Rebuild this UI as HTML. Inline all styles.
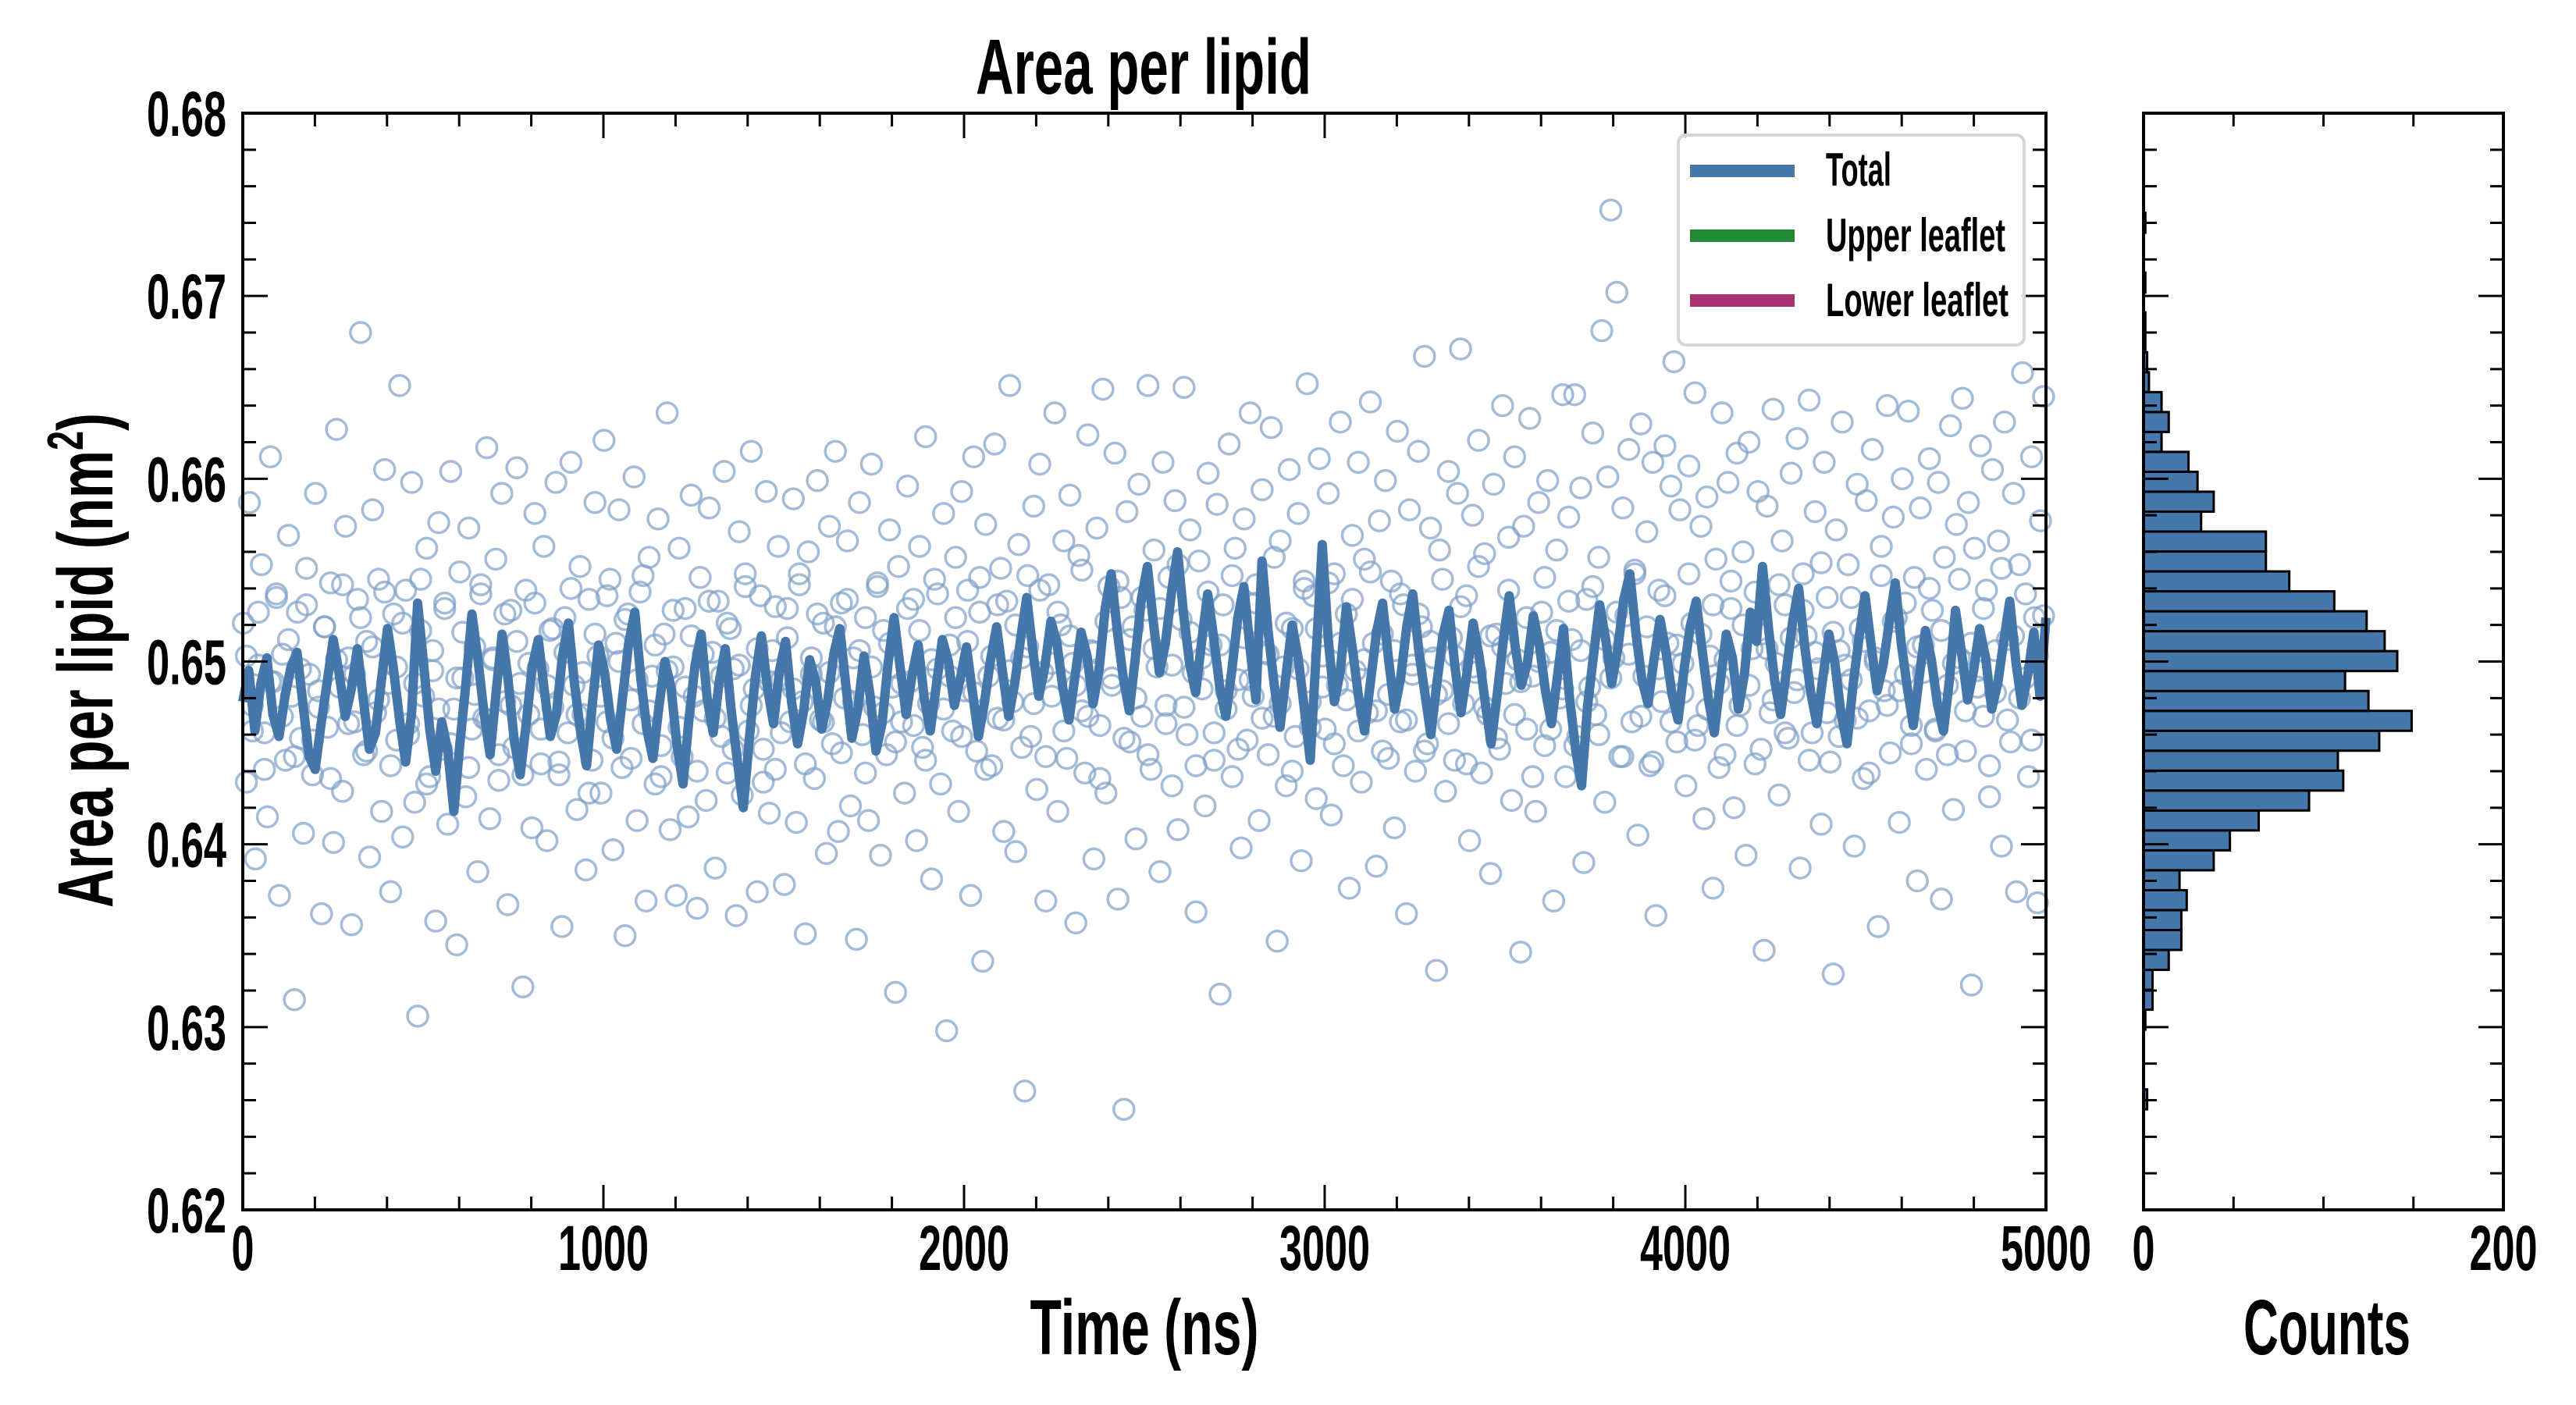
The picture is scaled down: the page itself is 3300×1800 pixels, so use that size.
<!DOCTYPE html>
<html><head><meta charset="utf-8"><style>
html,body{margin:0;padding:0;background:#fff}
svg{display:block}
text{font-family:"Liberation Sans Narrow","Liberation Sans",sans-serif;font-weight:bold;fill:#000}
</style></head><body>
<svg id="chart" width="3300" height="1800" viewBox="0 0 3300 1800" xmlns="http://www.w3.org/2000/svg">
<g id="scatterG"></g>
<g id="lineG"></g>
<g id="histG"></g>
<g id="axesG"></g>
<text x="1465" y="120" font-size="100" text-anchor="middle" textLength="430" lengthAdjust="spacingAndGlyphs">Area per lipid</text>
<text x="1466" y="1735" font-size="100" text-anchor="middle" textLength="293" lengthAdjust="spacingAndGlyphs">Time (ns)</text>
<text x="2981" y="1735" font-size="100" text-anchor="middle" textLength="214" lengthAdjust="spacingAndGlyphs">Counts</text>
<text transform="translate(144,846) rotate(-90)" x="0" y="0" font-size="100" text-anchor="middle" textLength="634" lengthAdjust="spacingAndGlyphs">Area per lipid (nm<tspan font-size="65" dy="-38">2</tspan><tspan dy="38">)</tspan></text>
<g>
<rect x="2150" y="173" width="443" height="269" rx="10" fill="#fff" fill-opacity="0.85" stroke="#d6d6d6" stroke-width="4"/>
<g><rect x="2165" y="211" width="134" height="16" fill="#4577aa"/><text x="2339" y="238" font-size="60" textLength="84" lengthAdjust="spacingAndGlyphs">Total</text></g>
<g><rect x="2165" y="294" width="134" height="16" fill="#238a35"/><text x="2339" y="322" font-size="60" textLength="230" lengthAdjust="spacingAndGlyphs">Upper leaflet</text></g>
<g><rect x="2165" y="377" width="134" height="16" fill="#a83371"/><text x="2339" y="405" font-size="60" textLength="234" lengthAdjust="spacingAndGlyphs">Lower leaflet</text></g>
</g>
</svg>
<script>
const lineValues=[.6478,.6495,.6462,.6488,.6502,.6471,.6459,.6481,.6497,.6505,.6476,.6448,.6441,.6466,.6489,.6512,.6493,.6470,.6485,.6507,
.6479,.6452,.6461,.6490,.6518,.6496,.6468,.6445,.6472,.6532,.6498,.6463,.6440,.6467,.6451,.6418,.6455,.6488,.6526,.6501,
.6472,.6449,.6483,.6515,.6490,.6457,.6438,.6466,.6497,.6512,.6484,.6459,.6471,.6503,.6521,.6488,.6462,.6443,.6478,.6509,
.6494,.6468,.6452,.6481,.6510,.6527,.6491,.6463,.6447,.6475,.6500,.6486,.6454,.6433,.6469,.6498,.6515,.6480,.6461,.6489,
.6507,.6473,.6446,.6420,.6458,.6492,.6514,.6486,.6466,.6495,.6511,.6478,.6455,.6473,.6501,.6489,.6463,.6479,.6504,.6518,
.6487,.6458,.6474,.6503,.6482,.6451,.6466,.6499,.6524,.6497,.6471,.6493,.6509,.6480,.6462,.6487,.6512,.6500,.6476,.6491,
.6508,.6483,.6459,.6478,.6501,.6519,.6494,.6470,.6488,.6513,.6535,.6506,.6481,.6497,.6522,.6510,.6485,.6468,.6492,.6516,
.6503,.6477,.6496,.6529,.6548,.6517,.6491,.6473,.6502,.6534,.6552,.6521,.6494,.6510,.6538,.6560,.6526,.6499,.6483,.6511,
.6537,.6513,.6486,.6470,.6495,.6524,.6541,.6508,.6479,.6555,.6517,.6488,.6464,.6493,.6520,.6502,.6475,.6446,.6505,.6564,
.6512,.6478,.6495,.6530,.6507,.6481,.6462,.6489,.6516,.6532,.6501,.6474,.6491,.6519,.6537,.6506,.6483,.6460,.6488,.6514,
.6528,.6497,.6472,.6494,.6521,.6503,.6478,.6455,.6482,.6511,.6536,.6508,.6487,.6499,.6525,.6509,.6484,.6466,.6492,.6518,
.6480,.6452,.6432,.6476,.6504,.6531,.6512,.6488,.6507,.6534,.6548,.6516,.6490,.6477,.6501,.6523,.6505,.6482,.6468,.6496,
.6519,.6533,.6506,.6480,.6461,.6489,.6515,.6502,.6474,.6493,.6527,.6511,.6552,.6518,.6490,.6471,.6496,.6522,.6540,.6508,
.6483,.6466,.6491,.6515,.6499,.6472,.6455,.6487,.6513,.6536,.6509,.6484,.6498,.6521,.6543,.6510,.6486,.6465,.6492,.6517,
.6501,.6477,.6462,.6490,.6528,.6505,.6479,.6495,.6518,.6502,.6474,.6488,.6511,.6533,.6500,.6476,.6493,.6516,.6481,.6524];
const scatterValues=[.6521,.6434,.6587,.6476,.6392,.6498,.6553,.6461,.6415,.6612,.6489,.6537,.6372,.6504,.6446,.6569,.6481,.6315,.6527,.6458,
.6406,.6551,.6493,.6438,.6592,.6475,.6362,.6519,.6464,.6543,.6401,.6627,.6486,.6429,.6574,.6502,.6356,.6467,.6534,.6680,
.6449,.6511,.6393,.6583,.6472,.6545,.6418,.6605,.6488,.6374,.6526,.6457,.6651,.6404,.6539,.6466,.6598,.6423,.6306,.6517,
.6481,.6562,.6437,.6495,.6358,.6576,.6452,.6532,.6411,.6604,.6474,.6345,.6549,.6491,.6426,.6573,.6463,.6508,.6385,.6542,
.6469,.6617,.6414,.6501,.6556,.6435,.6592,.6478,.6367,.6528,.6453,.6606,.6488,.6322,.6539,.6471,.6409,.6581,.6496,.6444,
.6563,.6402,.6517,.6475,.6598,.6438,.6355,.6524,.6461,.6609,.6487,.6419,.6552,.6471,.6386,.6534,.6446,.6587,.6503,.6428,
.6621,.6467,.6545,.6397,.6510,.6583,.6442,.6350,.6526,.6479,.6601,.6413,.6538,.6466,.6369,.6557,.6492,.6433,.6578,.6454,
.6515,.6636,.6408,.6497,.6372,.6562,.6448,.6529,.6415,.6591,.6481,.6365,.6546,.6473,.6424,.6584,.6505,.6387,.6533,.6459,
.6604,.6439,.6518,.6496,.6361,.6571,.6427,.6548,.6462,.6615,.6485,.6374,.6536,.6452,.6593,.6417,.6506,.6441,.6563,.6490,
.6378,.6529,.6467,.6589,.6412,.6542,.6478,.6351,.6560,.6493,.6436,.6599,.6468,.6521,.6395,.6574,.6455,.6615,.6407,.6532,
.6480,.6566,.6421,.6502,.6348,.6587,.6460,.6524,.6413,.6608,.6475,.6541,.6394,.6517,.6449,.6572,.6486,.6319,.6552,.6467,
.6428,.6596,.6489,.6534,.6402,.6563,.6453,.6623,.6477,.6381,.6545,.6496,.6433,.6581,.6298,.6509,.6462,.6557,.6418,.6593,
.6484,.6539,.6372,.6612,.6451,.6527,.6336,.6575,.6492,.6443,.6619,.6469,.6551,.6407,.6533,.6651,.6478,.6396,.6564,.6502,
.6265,.6547,.6459,.6585,.6430,.6608,.6494,.6369,.6542,.6481,.6636,.6418,.6520,.6566,.6447,.6591,.6499,.6357,.6558,.6473,
.6439,.6624,.6506,.6392,.6573,.6465,.6649,.6428,.6541,.6487,.6614,.6370,.6535,.6255,.6582,.6456,.6519,.6403,.6597,.6470,
.6528,.6651,.6441,.6561,.6497,.6385,.6609,.6476,.6546,.6432,.6588,.6408,.6523,.6650,.6460,.6572,.6494,.6363,.6555,.6485,
.6421,.6603,.6509,.6446,.6586,.6318,.6531,.6474,.6619,.6437,.6562,.6490,.6398,.6578,.6457,.6636,.6481,.6542,.6413,.6594,
.6505,.6449,.6628,.6470,.6347,.6566,.6497,.6432,.6605,.6518,.6459,.6581,.6391,.6544,.6652,.6478,.6536,.6425,.6611,.6503,
.6463,.6592,.6416,.6548,.6487,.6631,.6443,.6526,.6376,.6569,.6495,.6609,.6434,.6556,.6472,.6642,.6510,.6388,.6577,.6451,
.6599,.6482,.6544,.6409,.6626,.6467,.6531,.6362,.6583,.6498,.6440,.6615,.6519,.6667,.6455,.6573,.6502,.6331,.6561,.6484,
.6429,.6604,.6513,.6446,.6592,.6671,.6477,.6536,.6402,.6580,.6494,.6621,.6439,.6559,.6471,.6384,.6597,.6515,.6452,.6640,
.6488,.6568,.6424,.6612,.6501,.6341,.6574,.6463,.6633,.6492,.6418,.6587,.6527,.6454,.6599,.6505,.6369,.6561,.6480,.6646,
.6437,.6579,.6512,.6646,.6459,.6595,.6390,.6534,.6486,.6625,.6471,.6557,.6681,.6423,.6601,.6747,.6502,.6702,.6448,.6584,
.6525,.6616,.6467,.6548,.6405,.6630,.6492,.6571,.6443,.6609,.6361,.6539,.6478,.6618,.6510,.6596,.6664,.6456,.6583,.6499,
.6432,.6607,.6521,.6647,.6465,.6574,.6414,.6590,.6503,.6376,.6556,.6488,.6636,.6449,.6598,.6529,.6420,.6614,.6476,.6560,
.6394,.6620,.6507,.6444,.6593,.6515,.6342,.6585,.6472,.6638,.6499,.6427,.6566,.6531,.6458,.6603,.6483,.6622,.6387,.6548,
.6514,.6643,.6461,.6582,.6496,.6411,.6609,.6535,.6445,.6329,.6572,.6506,.6631,.6468,.6553,.6490,.6399,.6597,.6518,.6436,
.6588,.6473,.6616,.6500,.6355,.6563,.6484,.6640,.6450,.6579,.6524,.6412,.6600,.6493,.6637,.6465,.6546,.6380,.6584,.6509,
.6441,.6611,.6528,.6462,.6598,.6370,.6557,.6487,.6629,.6419,.6575,.6502,.6644,.6451,.6587,.6323,.6562,.6495,.6618,.6470,
.6539,.6426,.6605,.6483,.6566,.6399,.6631,.6512,.6456,.6592,.6374,.6553,.6658,.6491,.6437,.6612,.6524,.6368,.6577,.6645];
const scatterValuesB=[.6503,.6462,.6527,.6441,.6489,.6535,.6470,.6512,.6448,.6496,.6531,.6457,.6484,.6519,.6436,.6501,.6542,.6466,.6493,.6524,
.6451,.6508,.6479,.6538,.6443,.6497,.6521,.6460,.6488,.6545,.6433,.6506,.6474,.6529,.6455,.6491,.6516,.6442,.6482,.6537,
.6468,.6502,.6449,.6526,.6476,.6511,.6438,.6499,.6532,.6463,.6487,.6518,.6445,.6505,.6540,.6471,.6494,.6428,.6515,.6481,
.6536,.6458,.6500,.6523,.6447,.6490,.6547,.6473,.6509,.6437,.6495,.6528,.6464,.6486,.6514,.6440,.6504,.6533,.6469,.6492,
.6521,.6452,.6498,.6541,.6476,.6507,.6434,.6489,.6530,.6461,.6513,.6485,.6548,.6444,.6502,.6526,.6467,.6494,.6519,.6450,
.6534,.6478,.6506,.6439,.6497,.6543,.6472,.6510,.6456,.6488,.6529,.6465,.6517,.6446,.6501,.6537,.6474,.6492,.6524,.6459,
.6511,.6483,.6546,.6441,.6503,.6531,.6468,.6495,.6520,.6453,.6508,.6477,.6539,.6448,.6499,.6527,.6462,.6514,.6487,.6550,
.6470,.6505,.6436,.6522,.6491,.6544,.6458,.6512,.6480,.6535,.6449,.6507,.6529,.6466,.6498,.6553,.6475,.6516,.6443,.6502,
.6538,.6461,.6509,.6484,.6547,.6452,.6513,.6490,.6532,.6469,.6504,.6557,.6477,.6521,.6440,.6496,.6540,.6464,.6518,.6486,
.6543,.6455,.6510,.6479,.6534,.6462,.6501,.6549,.6473,.6515,.6447,.6506,.6537,.6468,.6493,.6526,.6451,.6511,.6482,.6545,
.6466,.6503,.6530,.6444,.6497,.6552,.6475,.6514,.6458,.6508,.6539,.6471,.6489,.6524,.6437,.6500,.6546,.6463,.6517,.6485,
.6533,.6454,.6506,.6478,.6541,.6460,.6512,.6491,.6527,.6448,.6504,.6550,.6470,.6519,.6445,.6496,.6536,.6467,.6509,.6483,
.6548,.6457,.6515,.6474,.6531,.6442,.6501,.6544,.6465,.6520,.6487,.6538,.6452,.6507,.6479,.6542,.6461,.6513,.6490,.6528,
.6446,.6505,.6554,.6472,.6516,.6459,.6498,.6535,.6469,.6511,.6439,.6502,.6547,.6476,.6522,.6484,.6532,.6455,.6508,.6494,
.6540,.6463,.6517,.6449,.6499,.6545,.6473,.6510,.6486,.6529,.6443,.6506,.6551,.6468,.6514,.6480,.6537,.6457,.6503,.6525];
const histBinStart=0.6255;
const histBinWidth=0.00109;
const histCounts=[2,0,0,0,1,5,5,14,21,21,24,20,39,48,64,92,111,108,131,149,125,112,141,134,124,106,81,68,68,32,39,30,25,10,14,10,3,2,1,1,0,1,0,0,1];
const timeMax=5000;
const yTicks=[0.62,0.63,0.64,0.65,0.66,0.67,0.68];
const yTickLabels=["0.62","0.63","0.64","0.65","0.66","0.67","0.68"];
const xTicks=[0,1000,2000,3000,4000,5000];
const xTickLabels=["0","1000","2000","3000","4000","5000"];
const hTicks=[0,200];
const hTickLabels=["0","200"];

const NS='http://www.w3.org/2000/svg';
const L=311,R=2621,T=145,B=1550,HL=2746,HR=3207;
const yMin=0.62,yMax=0.68,cMax=200;
const xS=t=>L+(t/timeMax)*(R-L);
const yS=v=>B-(v-yMin)/(yMax-yMin)*(B-T);
const hS=c=>HL+(c/cMax)*(HR-HL);
function mk(tag,attrs,parent){const e=document.createElementNS(NS,tag);for(const k in attrs)e.setAttribute(k,attrs[k]);parent.appendChild(e);return e;}

const sg=document.getElementById('scatterG');
function drawScatter(arr,offset){
 arr.forEach((v,i)=>{
  const c=mk('circle',{cx:xS((i+offset)*timeMax/(arr.length)),cy:yS(v),r:13,fill:'none',stroke:'#7fa0c8','stroke-opacity':0.7,'stroke-width':3.5},sg);
  
  
 });
}
drawScatter(scatterValues,0.2);
drawScatter(scatterValuesB,0.6);
const lg=document.getElementById('lineG');
const pts=lineValues.map((v,i)=>xS(i*timeMax/(lineValues.length-1)).toFixed(1)+','+yS(v).toFixed(1)).join(' ');
const pl=mk('polyline',{points:pts,fill:'none',stroke:'#4577aa','stroke-width':12,'stroke-linejoin':'round'},lg);



const hg=document.getElementById('histG');
histCounts.forEach((c,i)=>{
 if(c<=0)return;
 const v0=histBinStart+i*histBinWidth,v1=v0+histBinWidth;
 const r=mk('rect',{x:HL,y:yS(v1),width:hS(c)-HL,height:yS(v0)-yS(v1),fill:'#4577aa',stroke:'#000','stroke-width':3},hg);
 
 
});

const ag=document.getElementById('axesG');
function frame(x0,x1){mk('rect',{x:x0,y:T,width:x1-x0,height:B-T,fill:'none',stroke:'#000','stroke-width':4},ag);}
frame(L,R);frame(HL,HR);
function tick(x1,y1,x2,y2){mk('line',{x1,y1,x2,y2,stroke:'#000','stroke-width':3},ag);}
for(let k=0;k<=30;k++){
 const v=yMin+k*0.002,y=yS(v),len=(k%5===0)?32:17;
 [[L,1],[R,-1],[HL,1],[HR,-1]].forEach(([x,d])=>tick(x,y,x+d*len,y));
}
for(let t=0;t<=timeMax;t+=200){const x=xS(t),len=(t%1000===0)?32:17;tick(x,B,x,B-len);tick(x,T,x,T+len);}
for(let c=0;c<=cMax;c+=50){const x=hS(c),len=(c%200===0)?32:17;tick(x,B,x,B-len);tick(x,T,x,T+len);}
function label(txt,x,y,anchor,w,name){const e=mk('text',{x,y,'font-size':82,'text-anchor':anchor,textLength:w,lengthAdjust:'spacingAndGlyphs'},ag);e.textContent=txt;
 
 }
yTicks.forEach((v,i)=>label(yTickLabels[i],290,yS(v)+29,'end',102,'y-tick-label'));
xTicks.forEach((t,i)=>label(xTickLabels[i],xS(t),1627,'middle',xTickLabels[i].length*29,'x-tick-label'));
hTicks.forEach((c,i)=>label(hTickLabels[i],hS(c),1627,'middle',hTickLabels[i].length*29,'hist-x-tick-label'));
</script>
</body></html>
